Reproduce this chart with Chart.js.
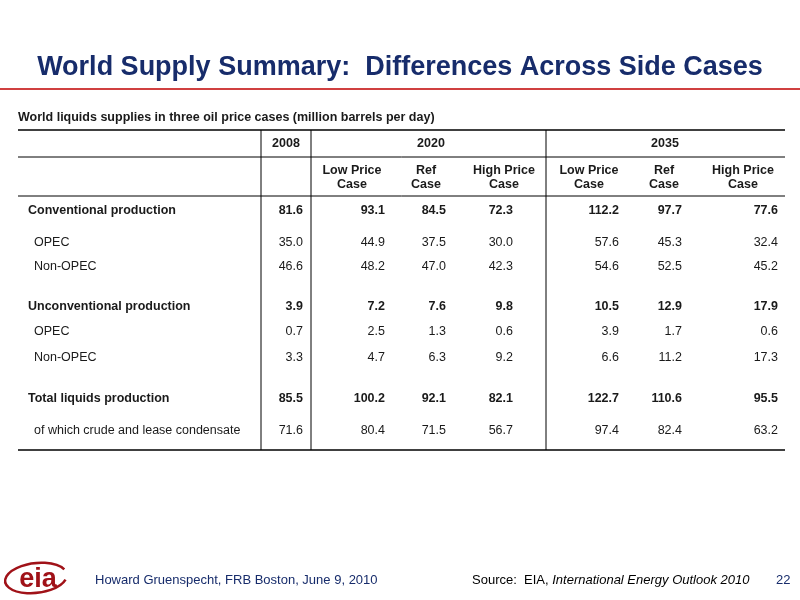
<!DOCTYPE html>
<html><head><meta charset="utf-8">
<script src="https://cdn.jsdelivr.net/npm/chart.js@4"></script>
<style>
body{margin:0;background:#fff;font-family:"Liberation Sans",Arial,sans-serif}
#wrap{position:relative;width:800px;height:600px}
</style></head><body>
<div id="wrap"><canvas id="c" width="800" height="600"></canvas></div>
<script>
// Table data
const years = ['2008', '2020', '2035'];
const caseHeaders = ['', 'Low Price\nCase', 'Ref\nCase', 'High Price\nCase', 'Low Price\nCase', 'Ref\nCase', 'High Price\nCase'];
const rowLabels = ['Conventional production', 'OPEC', 'Non-OPEC', 'Unconventional production', 'OPEC', 'Non-OPEC', 'Total liquids production', 'of which crude and lease condensate'];
const rowBold = [true, false, false, true, false, false, true, false];
const conventional = [81.6, 93.1, 84.5, 72.3, 112.2, 97.7, 77.6];
const convOpec = [35.0, 44.9, 37.5, 30.0, 57.6, 45.3, 32.4];
const convNonOpec = [46.6, 48.2, 47.0, 42.3, 54.6, 52.5, 45.2];
const unconventional = [3.9, 7.2, 7.6, 9.8, 10.5, 12.9, 17.9];
const uncOpec = [0.7, 2.5, 1.3, 0.6, 3.9, 1.7, 0.6];
const uncNonOpec = [3.3, 4.7, 6.3, 9.2, 6.6, 11.2, 17.3];
const totalLiquids = [85.5, 100.2, 92.1, 82.1, 122.7, 110.6, 95.5];
const crudeCondensate = [71.6, 80.4, 71.5, 56.7, 97.4, 82.4, 63.2];
const rows = [conventional, convOpec, convNonOpec, unconventional, uncOpec, uncNonOpec, totalLiquids, crudeCondensate];

// Layout (pixel positions on the 800x600 page scale)
const colRight = [303, 385, 446, 513, 619, 682, 778];
const colCenter = [286, 352, 426, 504, 589, 664, 743];
const rowY = [211, 243, 267, 307, 332, 358, 399, 431];

const points = [];
rows.forEach((r, ri) => r.forEach((v, ci) => points.push({x: colRight[ci], y: rowY[ri], v: v, bold: rowBold[ri]})));

const tablePlugin = {
  id: 'table',
  afterDraw(chart) {
    const ctx = chart.ctx, X = chart.scales.x, Y = chart.scales.y;
    const px = v => X.getPixelForValue(v), py = v => Y.getPixelForValue(v);
    const font = (s, b, i) => (i ? 'italic ' : '') + (b ? 'bold ' : '') + s + 'px "Liberation Sans", Arial, sans-serif';
    ctx.save();
    ctx.textBaseline = 'middle';
    // title
    ctx.fillStyle = '#172c6b';
    ctx.font = font(27, true);
    ctx.textAlign = 'center';
    ctx.fillText('World Supply Summary:  Differences Across Side Cases', px(400), py(68));
    ctx.strokeStyle = '#c00000'; ctx.lineWidth = 1.5;
    ctx.beginPath(); ctx.moveTo(px(0), py(89)); ctx.lineTo(px(800), py(89)); ctx.stroke();
    // subtitle
    ctx.fillStyle = '#1a1a1a';
    ctx.textAlign = 'left';
    ctx.font = font(12.5, true);
    ctx.fillText('World liquids supplies in three oil price cases (million barrels per day)', px(18), py(118));
    // rules
    ctx.strokeStyle = '#000'; ctx.lineWidth = 1;
    const hl = (y, x0, x1, w) => { ctx.lineWidth = w || 1; ctx.beginPath(); ctx.moveTo(px(x0), py(y)); ctx.lineTo(px(x1), py(y)); ctx.stroke(); };
    hl(130, 18, 785, 1.5); hl(157, 18, 785); hl(196, 18, 785); hl(450, 18, 785, 1.5);
    [261, 311, 546].forEach(x => { ctx.lineWidth = 1; ctx.beginPath(); ctx.moveTo(px(x), py(130)); ctx.lineTo(px(x), py(450)); ctx.stroke(); });
    // header
    ctx.textAlign = 'center';
    ctx.font = font(12.5, true);
    ctx.fillText(years[0], px(286), py(144));
    ctx.fillText(years[1], px(431), py(144));
    ctx.fillText(years[2], px(665), py(144));
    caseHeaders.forEach((h, i) => {
      h.split('\n').forEach((line, k) => { if (line) ctx.fillText(line, px(colCenter[i]), py(171 + k * 14)); });
    });
    // row labels
    ctx.textAlign = 'left';
    rowLabels.forEach((l, i) => {
      ctx.font = font(12.5, rowBold[i]);
      ctx.fillText(l, px(rowBold[i] ? 28 : 34), py(rowY[i]));
    });
    // cells
    ctx.textAlign = 'right';
    chart.getDatasetMeta(0).data.forEach((el, i) => {
      const p = points[i];
      ctx.font = font(12.5, p.bold);
      ctx.fillText(p.v.toFixed(1), el.x, el.y);
    });
    // footer
    ctx.fillStyle = '#172c6b';
    ctx.textAlign = 'left';
    ctx.font = font(13);
    ctx.fillText('Howard Gruenspecht, FRB Boston, June 9, 2010', px(95), py(580));
    ctx.fillStyle = '#000';
    let sx = px(472);
    ctx.fillText('Source:  EIA, ', sx, py(580));
    sx += ctx.measureText('Source:  EIA, ').width;
    ctx.font = font(13, false, true);
    ctx.fillText('International Energy Outlook 2010', sx, py(580));
    ctx.font = font(13);
    ctx.fillStyle = '#172c6b';
    ctx.fillText('22', px(776), py(580));
    // logo
    ctx.strokeStyle = '#a01218'; ctx.lineWidth = 2.5;
    ctx.beginPath(); ctx.ellipse(px(36), py(578), 31, 15, -0.12, 0.35, Math.PI * 2 - 0.35); ctx.stroke();
    ctx.fillStyle = '#a01218';
    ctx.font = font(27, true);
    ctx.textAlign = 'center';
    ctx.fillText('eia', px(38), py(580));
    ctx.restore();
  }
};

new Chart(document.getElementById('c'), {
  type: 'scatter',
  data: { datasets: [{ data: points, pointRadius: 0, pointHoverRadius: 0 }] },
  options: {
    responsive: false, animation: false,
    layout: { padding: 0 },
    plugins: { legend: { display: false }, tooltip: { enabled: false } },
    scales: {
      x: { type: 'linear', min: 0, max: 800, display: false },
      y: { type: 'linear', min: 0, max: 600, reverse: true, display: false }
    }
  },
  plugins: [tablePlugin]
});
</script>
</body></html>
